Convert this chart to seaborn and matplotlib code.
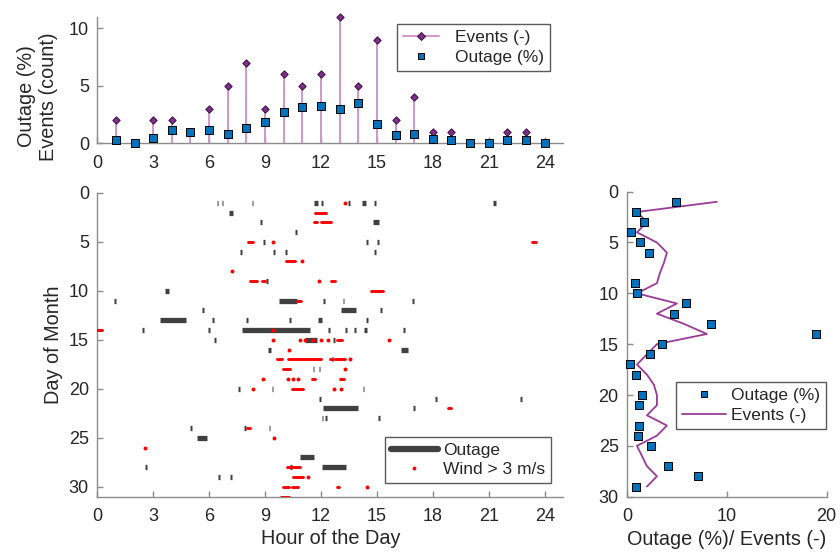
import numpy as np
import seaborn as sns
import matplotlib.pyplot as plt
from matplotlib.lines import Line2D

# ---- hourly totals (top panel) ----
hours = list(range(1, 25))
events_hour = [2, 0, 2, 2, 1, 3, 5, 7, 3, 6, 5, 6, 11, 5, 9, 2, 4, 1, 1, 0, 0, 1, 1, 0]
outage_hour = [0.29, 0.0, 0.43, 1.16, 1.01, 1.16, 0.78, 1.30, 1.83, 2.72, 3.13, 3.25,
               3.01, 3.48, 1.68, 0.70, 0.81, 0.41, 0.29, 0.0, 0.0, 0.29, 0.29, 0.0]

# ---- daily totals (right panel) ----
days_line = list(range(1, 30))
events_day = [9, 1, 2, 1, 3, 4, 3.7, 3.3, 3, 1, 5, 3, 5.7, 8, 3, 2, 1, 2, 2.7, 3, 3, 2, 4,
              3, 1, 1.5, 2, 3, 2]
days_outage = [1, 2, 3, 4, 5, 6, 9, 10, 11, 12, 13, 14, 15, 16, 17, 18, 20, 21, 23, 24,
               25, 27, 28, 29]
outage_day = [4.93, 0.93, 1.67, 0.43, 1.33, 2.17, 0.77, 1.0, 5.93, 4.67, 8.43, 18.97,
              3.53, 2.27, 0.33, 0.93, 1.53, 1.17, 1.17, 1.07, 2.43, 4.07, 7.07, 0.87]

# ---- outage intervals (day, start hour, end hour) ----
out_day = [1, 1, 1, 1, 1, 1, 1, 1, 1,
           2, 3, 3, 4, 5, 5, 5, 6, 6, 6, 6, 9, 10,
           11, 11, 11, 11, 11, 12, 12, 12,
           13, 13, 13, 13, 13, 13,
           14, 14, 14, 14, 14, 14, 14, 14,
           15, 15, 15, 16, 16, 17, 18, 18, 20, 20, 20, 21, 21, 21,
           22, 22, 23, 23, 23, 24, 24, 24, 25, 27, 28, 28, 28, 29, 29]
out_start = [6.40, 6.67, 8.28, 11.64, 12.00, 13.47, 14.22, 14.86, 21.25,
             7.06, 8.73, 14.81, 10.60, 8.90, 14.40, 15.00, 7.65, 9.42, 10.07, 14.86, 9.05, 3.63,
             0.90, 9.75, 12.12, 13.16, 16.88, 5.61, 13.07, 15.16,
             3.36, 6.15, 7.96, 10.28, 11.82, 14.40,
             2.38, 5.95, 7.74, 12.39, 13.29, 13.77, 14.30, 16.41,
             6.26, 11.14, 12.66, 9.17, 16.30, 12.57, 11.55, 11.87, 7.56, 9.35, 14.23, 11.91, 18.10, 22.70,
             12.12, 16.95, 12.03, 12.23, 15.07, 4.99, 7.87, 9.19, 5.33, 10.87, 2.57, 10.35, 12.04, 6.50, 7.12]
out_end = [6.40, 6.67, 8.28, 11.86, 12.00, 13.47, 14.41, 14.86, 21.40,
           7.26, 8.73, 15.13, 10.60, 8.90, 14.40, 15.00, 7.65, 9.55, 10.07, 14.86, 9.05, 3.86,
           0.90, 10.69, 12.12, 13.16, 16.88, 5.61, 13.90, 15.16,
           4.76, 6.15, 7.96, 10.28, 12.04, 14.40,
           2.38, 5.95, 11.41, 12.39, 13.29, 13.77, 14.47, 16.41,
           6.26, 11.80, 12.66, 9.30, 16.68, 12.57, 11.55, 11.87, 7.56, 9.35, 14.23, 11.91, 18.10, 22.70,
           14.00, 16.95, 12.03, 12.23, 15.07, 4.99, 7.87, 9.19, 5.90, 11.62, 2.57, 10.35, 13.32, 6.50, 7.12]

# ---- wind > 3 m/s intervals (day, start hour, end hour) ----
wind_day = [1, 2, 3, 3, 5, 5, 5, 7, 7, 8, 9, 9, 9, 9, 10, 11, 14, 14,
            15, 15, 15, 15, 15, 15, 15, 15, 16,
            17, 17, 17, 17, 17, 18, 18,
            19, 19, 19, 19, 19, 19, 20, 20, 20, 20, 22, 24, 25, 26, 28, 29, 29,
            30, 30, 30, 30, 31]
wind_start = [13.29, 11.68, 11.60, 11.98, 8.10, 9.44, 23.30, 10.10, 10.96, 7.21, 8.19, 8.85, 11.88, 12.52,
              14.68, 10.69, 0.00, 9.40,
              9.44, 10.87, 11.14, 11.55, 11.98, 12.39, 12.84, 15.65, 10.30,
              9.66, 10.21, 12.48, 12.75, 13.56, 9.98, 13.29,
              8.87, 10.21, 10.48, 10.78, 11.53, 13.02, 8.37, 10.44, 12.71, 13.05, 18.83, 8.01, 9.48, 2.54,
              10.16, 10.52, 11.32,
              9.98, 10.46, 12.84, 14.45, 9.84]
wind_end = [13.29, 12.27, 11.77, 12.54, 8.33, 9.44, 23.56, 10.60, 10.96, 7.21, 8.58, 9.00, 11.88, 12.75,
            15.34, 10.93, 0.25, 9.40,
            9.44, 10.87, 11.14, 11.55, 11.98, 12.39, 13.11, 15.65, 10.30,
            9.93, 11.99, 12.66, 13.29, 13.56, 10.34, 13.29,
            8.87, 10.21, 10.48, 10.78, 11.68, 13.25, 8.37, 11.02, 12.71, 13.05, 19.00, 8.19, 9.48, 2.54,
            10.87, 11.05, 11.32,
            10.28, 10.78, 12.98, 14.45, 10.28]

PURPLE = '#7e2f8e'
STEM = '#cf8fca'
LINE_PURPLE = '#9b3b96'
BLUE = '#0072bd'
GRAY = '#404040'
AXC = '#8c8c8c'
TICK_FS = 13
LABEL_FS = 14.3
LEG_FS = 12.5

sns.set_theme(style='ticks')
plt.rcParams['font.family'] = ['Liberation Sans', 'DejaVu Sans']
plt.rcParams['text.color'] = '#262626'
plt.rcParams['axes.labelcolor'] = '#262626'

fig = plt.figure(figsize=(8.4, 5.56), dpi=100)
ax_top = fig.add_axes([0.1158, 0.7423, 0.5548, 0.2277])
ax_main = fig.add_axes([0.1158, 0.1070, 0.5548, 0.5460])
ax_right = fig.add_axes([0.7464, 0.1067, 0.2377, 0.5486])


def style(ax):
    sns.despine(ax=ax)
    for s in ['left', 'bottom']:
        ax.spines[s].set_color(AXC)
        ax.spines[s].set_linewidth(1.0)
    ax.tick_params(direction='in', length=4, width=1, color=AXC, labelcolor='#262626',
                   labelsize=TICK_FS)
    ax.tick_params(axis='x', pad=8.5)
    ax.tick_params(axis='y', pad=6)


def legend_box(leg):
    fr = leg.get_frame()
    fr.set_edgecolor('#5a5a5a')
    fr.set_linewidth(1.0)
    fr.set_boxstyle('square', pad=0)


# top panel: stems + markers
ax_top.vlines(hours, 0, events_hour, colors=STEM, lw=1.3, zorder=2)
sns.scatterplot(x=hours, y=events_hour, marker='D', s=14, color=PURPLE, edgecolor='#3a0f3a',
                linewidth=0.7, ax=ax_top, zorder=3, clip_on=False, legend=False)
sns.scatterplot(x=hours, y=outage_hour, marker='s', s=26, color=BLUE, edgecolor='black',
                linewidth=0.7, ax=ax_top, zorder=4, clip_on=False, legend=False)
ax_top.set_xlim(0, 25)
ax_top.set_ylim(0, 11)
ax_top.set_xticks(range(0, 25, 3))
ax_top.set_yticks([0, 5, 10])
style(ax_top)
ax_top.set_ylabel('Outage (%)\nEvents (count)', fontsize=LABEL_FS, linespacing=1.2)
ax_top.yaxis.set_label_coords(-0.085, 0.37)
h_top = [Line2D([0], [0], color=STEM, lw=1.3, marker='D', markersize=4.5, markerfacecolor=PURPLE,
                markeredgecolor='#3a0f3a', markeredgewidth=0.7),
         Line2D([0], [0], ls='none', marker='s', markersize=5, markerfacecolor=BLUE,
                markeredgecolor='black', markeredgewidth=0.7)]
leg = ax_top.legend(h_top, ['Events (-)', 'Outage (%)'], loc='upper right',
                    bbox_to_anchor=(0.971, 0.942), borderaxespad=0, handlelength=2.1,
                    handletextpad=0.9, labelspacing=0.25, borderpad=0.35, fontsize=LEG_FS,
                    fancybox=False, framealpha=1)
legend_box(leg)

# main panel: outages and wind
out_end_plot = np.maximum(np.array(out_end), np.array(out_start) + 0.1)
ax_main.hlines(out_day, out_start, out_end_plot, colors=GRAY, lw=3.8, capstyle='butt', zorder=2)
ws = np.array(wind_start)
we = np.array(wind_end)
wd = np.array(wind_day)
run = we > ws
ax_main.hlines(wd[run], ws[run], we[run], colors='red', lw=2.1, capstyle='round', zorder=3)
sns.scatterplot(x=ws[~run], y=wd[~run], s=8, color='red', linewidth=0, ax=ax_main, zorder=3,
                clip_on=False, legend=False)
ax_main.set_xlim(0, 25)
ax_main.set_ylim(31, 0)
ax_main.set_xticks(range(0, 25, 3))
ax_main.set_yticks(range(0, 31, 5))
style(ax_main)
ax_main.set_xlabel('Hour of the Day', fontsize=LABEL_FS, labelpad=3)
ax_main.set_ylabel('Day of Month', fontsize=LABEL_FS, labelpad=4)
h_main = [Line2D([0], [0], color=GRAY, lw=4.5),
          Line2D([0], [0], ls='none', marker='.', color='red', markersize=3.5)]
leg = ax_main.legend(h_main, ['Outage', 'Wind > 3 m/s'], loc='lower right',
                     bbox_to_anchor=(0.974, 0.044), borderaxespad=0, handlelength=2.7,
                     handletextpad=0.3, labelspacing=0.2, borderpad=0.35, fontsize=LEG_FS,
                     fancybox=False, framealpha=1)
legend_box(leg)

# right panel: daily outage and events
sns.lineplot(x=events_day, y=days_line, sort=False, estimator=None, color=LINE_PURPLE, lw=1.3,
             ax=ax_right, zorder=2)
sns.scatterplot(x=outage_day, y=days_outage, marker='s', s=30, color=BLUE, edgecolor='black',
                linewidth=0.7, ax=ax_right, zorder=3, clip_on=False, legend=False)
ax_right.set_xlim(0, 20)
ax_right.set_ylim(30, 0)
ax_right.set_xticks([0, 10, 20])
ax_right.set_yticks(range(0, 31, 5))
style(ax_right)
ax_right.set_xlabel('Outage (%)/ Events (-)', fontsize=LABEL_FS, labelpad=3)
ax_right.set_ylabel('')
h_right = [Line2D([0], [0], ls='none', marker='s', markersize=5, markerfacecolor=BLUE,
                  markeredgecolor='black', markeredgewidth=0.7),
           Line2D([0], [0], color=LINE_PURPLE, lw=1.3)]
leg = ax_right.legend(h_right, ['Outage (%)', 'Events (-)'], loc='upper right',
                      bbox_to_anchor=(0.996, 0.376), borderaxespad=0, handlelength=2.5,
                      handletextpad=0.3, labelspacing=0.25, borderpad=0.35, fontsize=LEG_FS,
                      fancybox=False, framealpha=1)
legend_box(leg)

fig.savefig('out.png', dpi=100)
